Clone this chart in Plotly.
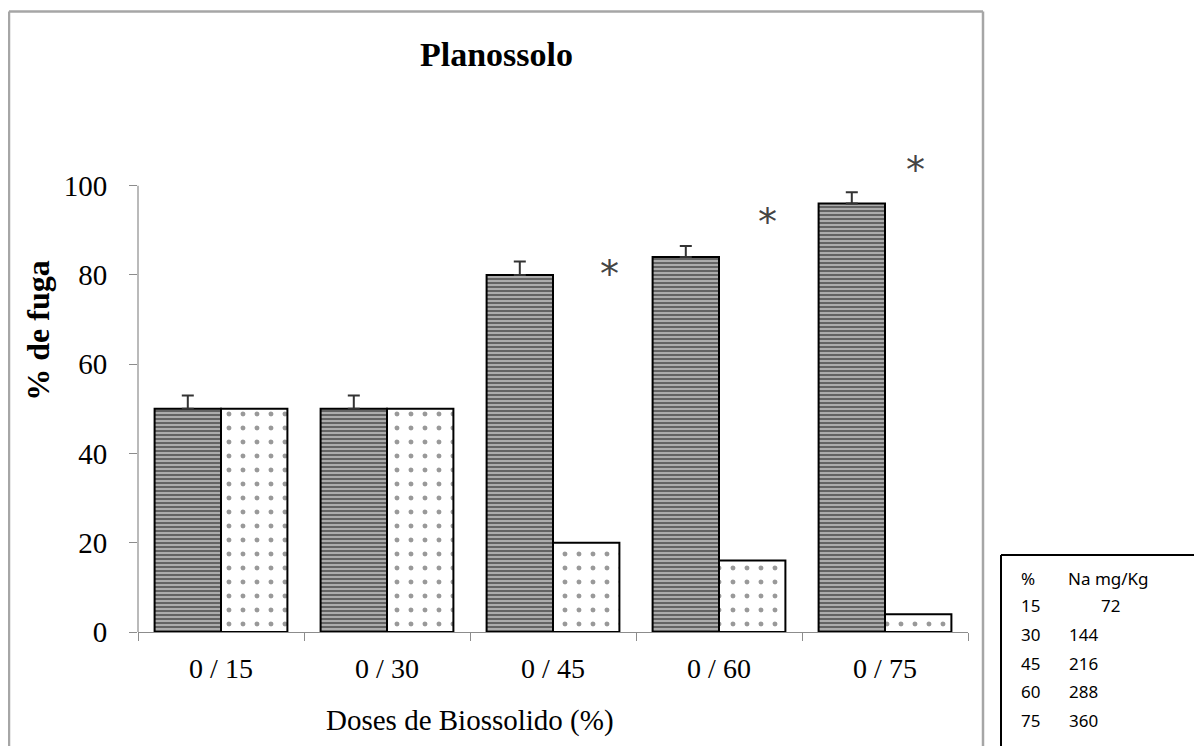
import plotly.graph_objects as go

# ---------------- data ----------------
categories = ["0 / 15", "0 / 30", "0 / 45", "0 / 60", "0 / 75"]
fuga = [50, 50, 80, 84, 96]          # striped bars
fuga_err = [3, 3, 3, 2.5, 2.5]
nao_fuga = [50, 50, 20, 16, 4]        # dotted bars
star_cats = ["0 / 45", "0 / 60", "0 / 75"]
star_vals = [82.5, 94.2, 105.8]
star_xshift = [56, 48, 30]

table_pct = [15, 30, 45, 60, 75]
table_na = [72, 144, 216, 288, 360]

# ---------------- layout geometry (pixels in the 1202x746 page) ----------------
OFF = 8                      # default page body margin
FW, FH = 1202 - OFF, 746 - OFF
L, R = 138 - OFF, 968 - OFF
B = 632 - OFF
YMAX = 110
PX_PER_UNIT = (632 - 186) / 100.0
T = B - YMAX * PX_PER_UNIT
W = R - L
H = B - T


def px(x):
    return (x - OFF - L) / W


def py(y):
    return (B - (y - OFF)) / H


serif = "Liberation Serif, Times New Roman, serif"

fig = go.Figure()
fig.add_trace(go.Bar(
    x=categories, y=fuga, name="fuga",
    marker=dict(
        color="#b4b4b4",
        line=dict(color="black", width=2),
        pattern=dict(shape="-", fgcolor="#111111", bgcolor="#b4b4b4",
                     size=4, solidity=0.55),
    ),
    error_y=dict(type="data", array=fuga_err, arrayminus=[0] * len(fuga_err),
                 symmetric=False, color="#333333", thickness=2, width=6),
))
fig.add_trace(go.Bar(
    x=categories, y=nao_fuga, name="nao fuga",
    marker=dict(
        color="white",
        line=dict(color="black", width=2),
        pattern=dict(shape=".", fgcolor="#333333", bgcolor="white",
                     size=14, solidity=0.1),
    ),
))

annotations = []
for c, v, s in zip(star_cats, star_vals, star_xshift):
    annotations.append(dict(x=c, y=v, xref="x", yref="y", text="*",
                            showarrow=False, xshift=s, yshift=-10,
                            xanchor="center", yanchor="middle",
                            font=dict(family="DejaVu Sans", size=38, color="#444444")))

# title and axis titles
annotations.append(dict(x=px(496), y=py(55), xref="paper", yref="paper",
                        text="<b>Planossolo</b>", showarrow=False,
                        xanchor="center", yanchor="middle",
                        font=dict(family=serif, size=34, color="black")))
annotations.append(dict(x=px(38), y=py(331), xref="paper", yref="paper",
                        text="<b>% de fuga</b>", showarrow=False, textangle=-90,
                        xanchor="center", yanchor="middle",
                        font=dict(family=serif, size=32, color="black")))
annotations.append(dict(x=px(470), y=py(720), xref="paper", yref="paper",
                        text="Doses de Biossolido (%)", showarrow=False,
                        xanchor="center", yanchor="middle",
                        font=dict(family=serif, size=29, color="black")))

# side table
tfont = dict(family="Noto Sans, Open Sans, sans-serif", size=17, color="black")
annotations.append(dict(x=px(1019), y=py(579), xref="paper", yref="paper", text="%",
                        showarrow=False, xanchor="left", yanchor="middle", font=tfont))
annotations.append(dict(x=px(1066), y=py(579), xref="paper", yref="paper", text="Na mg/Kg",
                        showarrow=False, xanchor="left", yanchor="middle", font=tfont))
for i, (p, n) in enumerate(zip(table_pct, table_na)):
    yy = 606 + i * 28.5
    annotations.append(dict(x=px(1019), y=py(yy), xref="paper", yref="paper", text=str(p),
                            showarrow=False, xanchor="left", yanchor="middle", font=tfont))
    xx = 1067 if len(str(n)) >= 3 else 1099
    annotations.append(dict(x=px(xx), y=py(yy), xref="paper", yref="paper", text=str(n),
                            showarrow=False, xanchor="left", yanchor="middle", font=tfont))

gray = "#a6a6a6"
shapes = [
    # outer chart frame
    dict(type="line", xref="paper", yref="paper", x0=px(9), x1=px(9), y0=py(12), y1=py(760),
         line=dict(color=gray, width=2.5)),
    dict(type="line", xref="paper", yref="paper", x0=px(9), x1=px(983), y0=py(12), y1=py(12),
         line=dict(color=gray, width=2.5)),
    dict(type="line", xref="paper", yref="paper", x0=px(983), x1=px(983), y0=py(12), y1=py(760),
         line=dict(color=gray, width=2.5)),
    # table box
    dict(type="line", xref="paper", yref="paper", x0=px(1001), x1=px(1001), y0=py(555), y1=py(760),
         line=dict(color="black", width=2)),
    dict(type="line", xref="paper", yref="paper", x0=px(1001), x1=px(1215), y0=py(555), y1=py(555),
         line=dict(color="black", width=2)),
    # y axis line (only up to 100)
    dict(type="line", xref="paper", yref="y", x0=0, x1=0, y0=0, y1=100,
         line=dict(color="#8c8c8c", width=1.2)),
]

fig.update_layout(
    width=FW, height=FH,
    margin=dict(l=L, r=FW - R, t=T, b=FH - B, pad=0),
    paper_bgcolor="white", plot_bgcolor="white",
    showlegend=False,
    barmode="group", bargap=0.2, bargroupgap=0,
    annotations=annotations, shapes=shapes,
    xaxis=dict(
        showline=True, linecolor="#8c8c8c", linewidth=1.2,
        ticks="outside", tickson="boundaries", ticklen=8, tickcolor="#8c8c8c",
        tickfont=dict(family=serif, size=28, color="black"),
        showgrid=False, zeroline=False, fixedrange=True, ticklabelstandoff=11,
    ),
    yaxis=dict(
        range=[0, YMAX], tickvals=[0, 20, 40, 60, 80, 100],
        showline=False, ticks="outside", ticklen=8, tickcolor="#8c8c8c",
        tickfont=dict(family=serif, size=29, color="black"),
        showgrid=False, zeroline=False, ticklabelstandoff=16,
    ),
)

fig.write_html("out.html")
